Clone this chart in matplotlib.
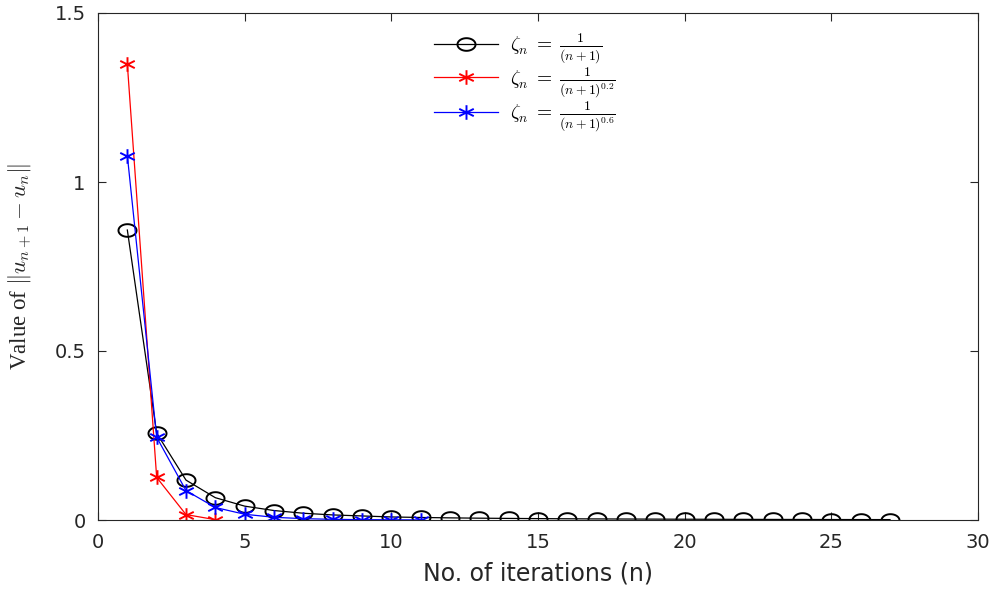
import matplotlib
matplotlib.use("Agg")
import matplotlib.pyplot as plt
import numpy as np
from matplotlib.path import Path

n_black = list(range(1, 28))
v_black = [0.858, 0.257, 0.118, 0.066, 0.041, 0.028, 0.020, 0.015, 0.012, 0.009,
           0.0075, 0.0063, 0.0054, 0.0047, 0.0041, 0.0036, 0.0032, 0.0029, 0.0026,
           0.0023, 0.0021, 0.0019, 0.0017, 0.0016, 0.0014, 0.0013, 0.0012]
n_red = [1, 2, 3, 4]
v_red = [1.349, 0.126, 0.016, 0.001]
n_blue = list(range(1, 12))
v_blue = [1.078, 0.245, 0.087, 0.037, 0.017, 0.008, 0.004, 0.002, 0.001, 0.0006, 0.0003]

labels = [r"$\zeta_n\;=\;\frac{1}{(n+1)}$",
          r"$\zeta_n\;=\;\frac{1}{(n+1)^{0.2}}$",
          r"$\zeta_n\;=\;\frac{1}{(n+1)^{0.6}}$"]

plt.rcParams['mathtext.fontset'] = 'cm'
plt.rcParams['font.family'] = ['DejaVu Sans']

# horizontally stretched marker shapes (the reference image is stretched)
t = np.linspace(0, 2 * np.pi, 60)
ellipse = Path(np.column_stack([np.cos(t), 0.7 * np.sin(t)]), closed=True)
ang = np.deg2rad([90, 30, 150])
verts, codes = [], []
for a in ang:
    dx, dy = 1.15 * np.cos(a), np.sin(a)
    verts += [(-dx, -dy), (dx, dy)]
    codes += [Path.MOVETO, Path.LINETO]
star = Path(verts, codes)

fig = plt.figure(figsize=(9.96, 5.93), dpi=100)
ax = fig.add_axes([98/996, 1 - 520/593, (978-98)/996, (520-13)/593])

ax.plot(n_black, v_black, color='black', lw=0.9, marker=ellipse, markersize=13,
        markerfacecolor='none', markeredgewidth=1.4, label=labels[0])
ax.plot(n_red, v_red, color='red', lw=0.9, marker=star, markersize=10.5,
        markeredgewidth=1.4, label=labels[1])
ax.plot(n_blue, v_blue, color='blue', lw=0.9, marker=star, markersize=10.5,
        markeredgewidth=1.4, label=labels[2])

ax.set_xlim(0, 30)
ax.set_ylim(0, 1.5)
ax.set_xticks([0, 5, 10, 15, 20, 25, 30])
ax.set_yticks([0, 0.5, 1, 1.5])
ax.set_yticklabels(['0', '0.5', '1', '1.5'])
ax.tick_params(direction='in', top=True, right=True, labelsize=14, length=6,
               width=0.8, colors='#262626')
ax.tick_params(axis='x', pad=9)
ax.tick_params(axis='y', pad=9)
for s in ax.spines.values():
    s.set_linewidth(0.8)
    s.set_color('#262626')

ax.set_xlabel('No. of iterations (n)', fontsize=17, labelpad=7, color='#262626')
ax.set_ylabel(r"Value of $\|u_{n+1}-u_n\|$", fontsize=16.5, labelpad=15,
              family=['Liberation Serif', 'DejaVu Serif'], color='#262626')

leg = ax.legend(loc='upper left', bbox_to_anchor=(0.366, 0.99), frameon=False,
                fontsize=14, handlelength=3.3, labelspacing=0.0, borderpad=0.2,
                handletextpad=0.6)

fig.savefig('out.png', dpi=100)
